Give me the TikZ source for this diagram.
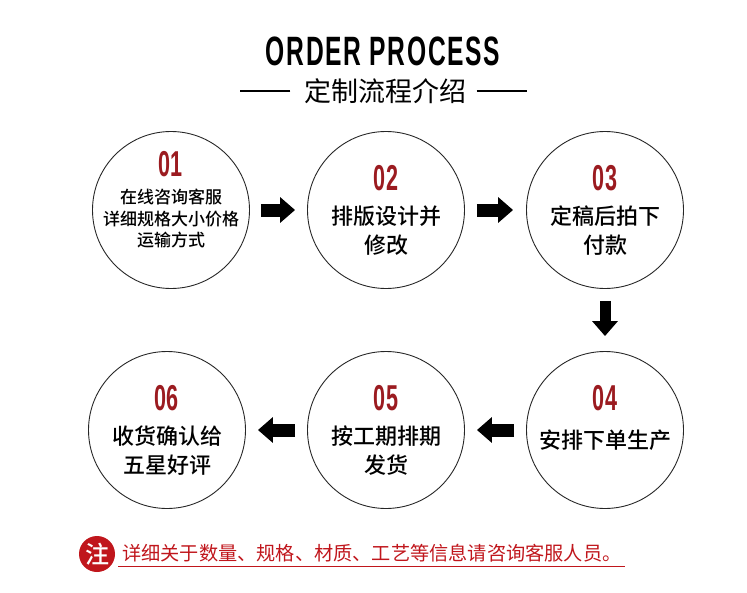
\documentclass[tikz,border=0pt]{standalone}
\usepackage{fontspec}
\usetikzlibrary{arrows.meta}
\setmainfont{Liberation Sans}
\newfontfamily\cjk{Noto Sans CJK SC}
\newfontfamily\cjkmed{Noto Sans CJK SC Medium}
\newfontfamily\titlefont[FakeStretch=0.6,LetterSpace=4]{Liberation Sans Bold}
\newfontfamily\numfont[FakeStretch=0.6]{Liberation Sans Bold}
\definecolor{numred}{HTML}{9B1B20}
\definecolor{notered}{HTML}{C0161C}

\begin{document}
\begin{tikzpicture}[x=1pt,y=-1pt,
    stage/.style={circle,draw=black!85,line width=0.9pt,minimum size=157pt,inner sep=0pt},
    num/.style={text=numred,font=\numfont\fontsize{36}{36}\selectfont},
    desc/.style={align=center,font=\cjkmed\fontsize{22}{29}\selectfont},
    flow/.style={-{Triangle[length=15pt,width=25pt]},line width=13pt}]
  \useasboundingbox (0,0) rectangle (747,592);
  % heading
  \node (title) at (383,51) {\titlefont\fontsize{41}{41}\selectfont ORDER PROCESS};
  \node (sub) at (385,91) {\cjk\fontsize{27}{27}\selectfont 定制流程介绍};
  \draw[line width=1.6pt] ([xshift=-10pt]sub.west) -- ++(-50,0);
  \draw[line width=1.6pt] ([xshift=7pt]sub.east) -- ++(50,0);

  % the six steps
  \node[stage] (c1) at (171,210) {};
  \node[num] (n1) at (171,164) {01};
  \node[desc,font=\cjkmed\fontsize{17}{21.5}\selectfont] (t1) at (171,219) {在线咨询客服\\详细规格大小价格\\运输方式};

  \node[stage] (c2) at (386,210) {};
  \node[num] (n2) at (386,178) {02};
  \node[desc] (t2) at (386,231) {排版设计并\\修改};

  \node[stage] (c3) at (605,210) {};
  \node[num] (n3) at (605,178) {03};
  \node[desc] (t3) at (605,231) {定稿后拍下\\付款};

  \node[stage] (c4) at (605,430) {};
  \node[num] (n4) at (605,398) {04};
  \node[desc] (t4) at (605,440) {安排下单生产};

  \node[stage] (c5) at (386,430) {};
  \node[num] (n5) at (386,398) {05};
  \node[desc] (t5) at (386,451) {按工期排期\\发货};

  \node[stage] (c6) at (167,430) {};
  \node[num] (n6) at (167,398) {06};
  \node[desc] (t6) at (167,451) {收货确认给\\五星好评};

  % arrows
  \draw[flow,shorten <=11pt,shorten >=12pt] (c1) -- (c2);
  \draw[flow,shorten <=12pt,shorten >=13pt] (c2) -- (c3);
  \draw[flow,line width=11pt,shorten <=12pt,shorten >=15pt] (c3) -- (c4);
  \draw[flow,shorten <=12pt,shorten >=12pt] (c4) -- (c5);
  \draw[flow,shorten <=12pt,shorten >=12pt] (c5) -- (c6);

  % note
  \node[circle,fill=notered,minimum size=36pt,inner sep=0pt,text=white,
    font=\cjkmed\fontsize{24}{24}\selectfont] (mark) at (97,554) {注};
  \node[anchor=west,text=notered,inner sep=0pt,font=\cjk\fontsize{19.2}{19.2}\selectfont] (note) at (122,553) {详细关于数量、规格、材质、工艺等信息请咨询客服人员。};
  \draw[notered,line width=1pt] ([xshift=-4pt,yshift=-4pt]note.south west) -- ([xshift=3pt,yshift=-4pt]note.south east);
\end{tikzpicture}
\end{document}
